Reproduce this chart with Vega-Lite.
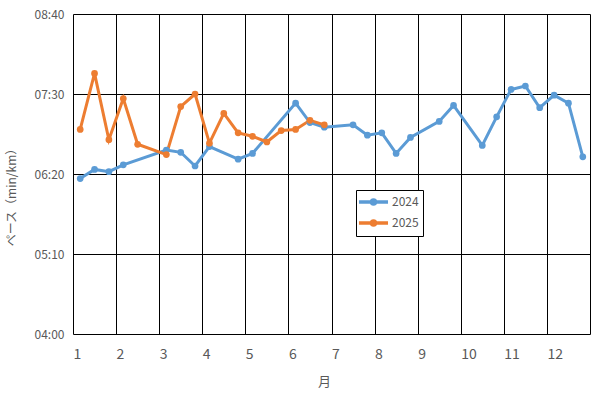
{
  "$schema": "https://vega.github.io/schema/vega-lite/v6.json",
  "width": 517,
  "height": 320,
  "autosize": {"type": "none"},
  "padding": {"left": 73, "top": 14, "right": 7, "bottom": 59},
  "background": "white",
  "config": {
    "view": {"stroke": null},
    "font": "Noto Sans CJK JP"
  },
  "data": {
    "values": [
      {"year": "2024", "month": 1.167, "pace": 376},
      {"year": "2024", "month": 1.5, "pace": 384},
      {"year": "2024", "month": 1.833, "pace": 382},
      {"year": "2024", "month": 2.167, "pace": 388},
      {"year": "2024", "month": 3.167, "pace": 401},
      {"year": "2024", "month": 3.5, "pace": 399},
      {"year": "2024", "month": 3.833, "pace": 387},
      {"year": "2024", "month": 4.167, "pace": 404},
      {"year": "2024", "month": 4.833, "pace": 393},
      {"year": "2024", "month": 5.167, "pace": 398},
      {"year": "2024", "month": 6.167, "pace": 442},
      {"year": "2024", "month": 6.5, "pace": 425},
      {"year": "2024", "month": 6.833, "pace": 421},
      {"year": "2024", "month": 7.5, "pace": 423},
      {"year": "2024", "month": 7.833, "pace": 414},
      {"year": "2024", "month": 8.167, "pace": 416},
      {"year": "2024", "month": 8.5, "pace": 398},
      {"year": "2024", "month": 8.833, "pace": 412},
      {"year": "2024", "month": 9.5, "pace": 426},
      {"year": "2024", "month": 9.833, "pace": 440},
      {"year": "2024", "month": 10.5, "pace": 405},
      {"year": "2024", "month": 10.833, "pace": 430},
      {"year": "2024", "month": 11.167, "pace": 454},
      {"year": "2024", "month": 11.5, "pace": 457},
      {"year": "2024", "month": 11.833, "pace": 438},
      {"year": "2024", "month": 12.167, "pace": 449},
      {"year": "2024", "month": 12.5, "pace": 442},
      {"year": "2024", "month": 12.833, "pace": 395},
      {"year": "2025", "month": 1.167, "pace": 419},
      {"year": "2025", "month": 1.5, "pace": 468},
      {"year": "2025", "month": 1.833, "pace": 410},
      {"year": "2025", "month": 2.167, "pace": 446},
      {"year": "2025", "month": 2.5, "pace": 406},
      {"year": "2025", "month": 3.167, "pace": 397},
      {"year": "2025", "month": 3.5, "pace": 439},
      {"year": "2025", "month": 3.833, "pace": 450},
      {"year": "2025", "month": 4.167, "pace": 407},
      {"year": "2025", "month": 4.5, "pace": 433},
      {"year": "2025", "month": 4.833, "pace": 416},
      {"year": "2025", "month": 5.167, "pace": 413},
      {"year": "2025", "month": 5.5, "pace": 408},
      {"year": "2025", "month": 5.833, "pace": 418},
      {"year": "2025", "month": 6.167, "pace": 419},
      {"year": "2025", "month": 6.5, "pace": 427},
      {"year": "2025", "month": 6.833, "pace": 423}
    ]
  },
  "mark": {
    "type": "line",
    "strokeWidth": 3,
    "point": {"filled": true, "size": 45, "opacity": 1}
  },
  "encoding": {
    "x": {
      "field": "month",
      "type": "quantitative",
      "scale": {"domain": [1, 13], "nice": false, "zero": false},
      "axis": {
        "values": [1, 2, 3, 4, 5, 6, 7, 8, 9, 10, 11, 12, 13],
        "labelExpr": "datum.value == 13 ? '' : datum.label",
        "grid": true,
        "gridColor": "#000000",
        "gridWidth": 1,
        "gridOpacity": 1,
        "domain": false,
        "ticks": false,
        "tickSize": 0,
        "labelAlign": "left",
        "labelDx": 2,
        "labelBaseline": "top",
        "labelPadding": 13,
        "labelFontSize": 14,
        "labelColor": "#595959",
        "labelFlush": false,
        "labelOverlap": false,
        "title": "月",
        "titleFontSize": 13,
        "titleFontWeight": "normal",
        "titleColor": "#595959",
        "titleX": 251,
        "titleY": 47.5,
        "titleBaseline": "middle",
        "titleAnchor": null
      }
    },
    "y": {
      "field": "pace",
      "type": "quantitative",
      "scale": {"domain": [240, 520], "nice": false, "zero": false},
      "axis": {
        "values": [240, 310, 380, 450, 520],
        "labelExpr": "format(floor(datum.value / 60), '02d') + ':' + format(datum.value % 60, '02d')",
        "grid": true,
        "gridColor": "#000000",
        "gridWidth": 1,
        "gridOpacity": 1,
        "domain": false,
        "ticks": false,
        "tickSize": 0,
        "labelPadding": 9,
        "labelFontSize": 12,
        "labelColor": "#595959",
        "labelFlush": false,
        "labelOverlap": false,
        "title": "ペース（min/km）",
        "titleFontSize": 12,
        "titleFontWeight": "normal",
        "titleColor": "#595959",
        "titleAngle": 270,
        "titleX": -61.5,
        "titleY": 180,
        "titleAlign": "center",
        "titleBaseline": "middle",
        "titleAnchor": null
      }
    },
    "color": {
      "field": "year",
      "type": "nominal",
      "scale": {"domain": ["2024", "2025"], "range": ["#5B9BD5", "#ED7D31"]},
      "legend": {
        "title": null,
        "orient": "none",
        "legendX": 283,
        "legendY": 176,
        "strokeColor": "#000000",
        "fillColor": "white",
        "padding": 4,
        "symbolType": "M-2.42,0H2.42M-0.33,0A0.33,0.33 0 1,0 0.33,0A0.33,0.33 0 1,0 -0.33,0",
        "symbolSize": 144,
        "symbolStrokeWidth": 3.5,
        "symbolOffset": 5.5,
        "labelFontSize": 12,
        "labelColor": "#595959",
        "labelOffset": 10.5,
        "rowPadding": 3
      }
    }
  }
}
